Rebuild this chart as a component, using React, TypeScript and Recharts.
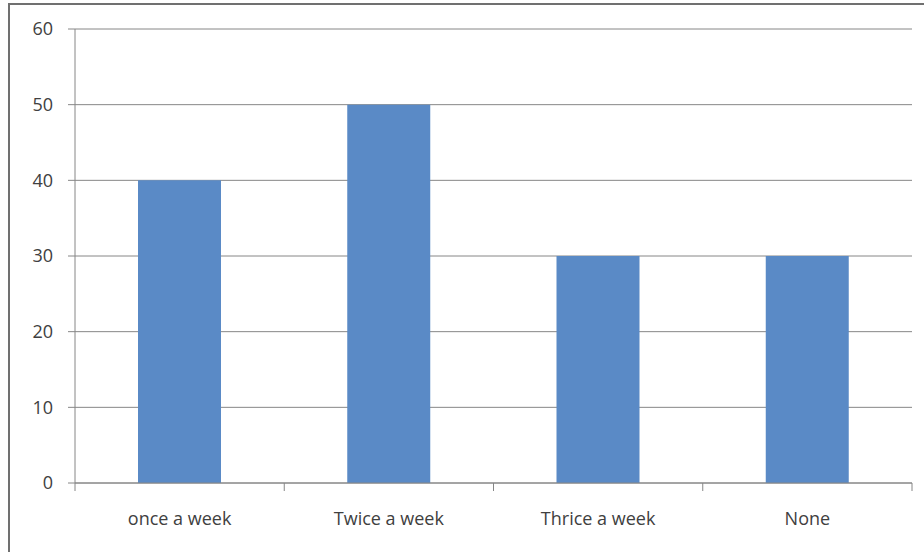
import { BarChart, Bar, XAxis, YAxis, CartesianGrid } from 'recharts'

const categories = ['once a week', 'Twice a week', 'Thrice a week', 'None']
const values = [40, 50, 30, 30]
const yTicks = [0, 10, 20, 30, 40, 50, 60]

const data = categories.map((name, i) => ({ name, value: values[i] }))

const FONT = '"Open Sans", sans-serif'
const AXIS = '#868686'

// category label in the middle, tick marks on the band edges (Excel style)
function CategoryTick(props: any) {
  const { x, y, payload, index, width, visibleTicksCount } = props
  const count = visibleTicksCount || categories.length
  const bw = (width || 837) / count
  const top = y - 21
  return (
    <g>
      <line x1={x - bw / 2} x2={x - bw / 2} y1={top - 8} y2={top} stroke={AXIS} />
      {index === count - 1 && (
        <line x1={x + bw / 2} x2={x + bw / 2} y1={top - 8} y2={top} stroke={AXIS} />
      )}
      <text x={x} y={y + 13} textAnchor="middle" fill="#404040" fontSize={18} fontFamily={FONT}>
        {payload.value}
      </text>
    </g>
  )
}

export default function App() {
  return (
    <div style={{ position: 'absolute', left: 0, top: 0, width: 924, height: 552, background: '#fff', overflow: 'hidden' }}>
      <div
        style={{
          position: 'absolute',
          left: 8,
          top: 3,
          width: 930,
          height: 560,
          border: '2px solid #707070',
          boxSizing: 'border-box',
        }}
      />
      <div style={{ position: 'absolute', left: 0, top: 0 }}>
        <BarChart
          width={924}
          height={552}
          data={data}
          margin={{ top: 29, right: 12, bottom: 0, left: 0 }}
          barSize={83}
        >
          <CartesianGrid horizontal vertical={false} stroke={AXIS} />
          <XAxis
            dataKey="name"
            stroke={AXIS}
            tickLine={false}
            tickSize={8}
            tickMargin={21}
            tick={<CategoryTick />}
            height={69}
          />
          <YAxis
            domain={[0, 60]}
            ticks={yTicks}
            width={75}
            stroke={AXIS}
            tickSize={7}
            tickMargin={15}
            tick={{ fill: '#404040', fontSize: 18, fontFamily: FONT }}
          />
          <Bar dataKey="value" fill="#5A8AC6" isAnimationActive={false} />
        </BarChart>
      </div>
    </div>
  )
}
